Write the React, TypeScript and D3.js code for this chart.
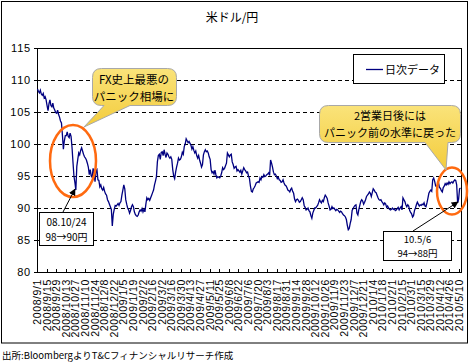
import * as d3 from 'd3';

const tickLabels = [
  '2008/9/1', '2008/9/15', '2008/9/29', '2008/10/13', '2008/10/27', '2008/11/10', '2008/11/24',
  '2008/12/8', '2008/12/22', '2009/1/5', '2009/1/19', '2009/2/2', '2009/2/16', '2009/3/2',
  '2009/3/16', '2009/3/30', '2009/4/13', '2009/4/27', '2009/5/11', '2009/5/25', '2009/6/8',
  '2009/6/22', '2009/7/6', '2009/7/20', '2009/8/3', '2009/8/17', '2009/8/31', '2009/9/14',
  '2009/9/28', '2009/10/12', '2009/10/26', '2009/11/9', '2009/11/23', '2009/12/7', '2009/12/21',
  '2010/1/4', '2010/1/18', '2010/2/1', '2010/2/15', '2010/3/1', '2010/3/15', '2010/3/29',
  '2010/4/12', '2010/4/26', '2010/5/10',
];

// daily close, USD/JPY (business days from 2008/9/1)
const usdJpy = [
  108.6, 108.2, 108.0, 108.4, 107.8, 107.6, 107.9, 107.2, 107.4, 106.9,
  106.0, 105.2, 106.3, 106.9, 106.0, 105.8, 106.4, 105.6, 105.3, 104.9,
  104.8, 105.3, 104.6, 104.2, 103.6, 103.3, 101.4, 99.2, 100.5, 101.3,
  101.3, 101.9, 101.2, 101.0, 101.7, 101.2, 99.5, 97.2, 95.0, 94.0,
  92.8, 96.5, 97.6, 98.6, 98.3, 99.0, 99.4, 98.9, 98.4, 98.0,
  97.8, 97.5, 97.0, 96.4, 95.2, 96.0, 95.0, 94.8, 96.2, 95.3,
  94.1, 95.8, 96.0, 94.4, 94.3, 93.3, 93.6, 93.0, 92.8, 93.2,
  92.6, 92.2, 92.0, 91.3, 91.0, 90.6, 90.2, 89.8, 87.2, 89.0,
  89.8, 90.4, 90.3, 90.5, 90.7, 90.4, 90.8, 91.0, 92.0, 92.8,
  93.6, 93.0, 91.3, 90.6, 90.0, 89.7, 89.2, 89.6, 90.2, 90.5,
  90.2, 89.4, 89.0, 88.8, 88.7, 88.9, 89.4, 89.7, 89.5, 89.9,
  89.4, 89.8, 89.4, 90.6, 91.6, 91.3, 91.5, 91.2, 91.6, 92.0,
  92.4, 92.8, 93.6, 94.2, 94.9, 97.2, 98.2, 98.4, 97.6, 98.7,
  98.8, 98.2, 99.1, 98.4, 97.9, 98.6, 98.4, 98.0, 97.8, 98.0,
  97.6, 96.0, 95.0, 94.6, 95.6, 96.4, 97.0, 97.8, 97.5, 97.6,
  98.0, 98.7, 98.4, 99.6, 100.0, 100.8, 100.5, 100.2, 100.4, 100.1,
  99.8, 99.2, 99.6, 99.0, 98.6, 98.9, 98.2, 97.8, 98.2, 97.5,
  97.0, 96.4, 96.8, 98.3, 98.8, 99.1, 98.8, 98.9, 98.6, 98.0,
  97.6, 96.0, 95.5, 95.7, 95.3, 95.9, 95.2, 94.7, 94.9, 94.8,
  94.7, 95.0, 95.5, 96.3, 96.0, 96.2, 96.6, 97.0, 98.6, 98.3,
  98.0, 98.3, 98.4, 97.2, 96.8, 96.2, 96.4, 96.5, 95.8, 96.0,
  95.8, 95.6, 95.9, 95.3, 95.8, 96.3, 96.0, 95.8, 95.5, 95.6,
  95.0, 94.6, 93.4, 92.6, 92.5, 93.0, 93.2, 93.5, 93.9, 94.0,
  94.1, 94.0, 94.7, 94.4, 94.9, 94.8, 95.2, 94.9, 95.0, 95.2,
  95.3, 95.5, 95.1, 97.5, 97.0, 96.4, 95.6, 95.2, 95.3, 95.0,
  94.6, 94.8, 94.4, 94.3, 94.0, 94.1, 94.4, 93.9, 93.6, 93.5,
  93.2, 92.8, 92.7, 92.5, 92.9, 93.1, 92.6, 92.3, 91.4, 91.0,
  91.3, 91.4, 91.2, 90.9, 91.0, 91.3, 91.6, 91.3, 90.4, 90.1,
  89.7, 89.8, 90.0, 89.6, 89.4, 88.8, 88.4, 89.2, 89.6, 90.0,
  90.0, 90.2, 90.4, 90.8, 91.3, 91.0, 90.8, 91.2, 91.0, 91.6,
  92.0, 91.8, 91.5, 90.8, 90.3, 89.7, 89.8, 90.2, 89.9, 90.0,
  89.8, 89.6, 89.8, 89.7, 89.5, 89.3, 89.5, 89.4, 89.1, 88.9,
  88.8, 88.6, 88.2, 87.3, 86.6, 86.8, 87.6, 88.2, 89.6, 89.9,
  90.2, 90.4, 90.5, 89.2, 88.9, 89.8, 90.4, 91.0, 91.3, 91.1,
  90.6, 90.9, 91.3, 91.8, 92.0, 92.2, 92.5, 92.3, 91.8, 92.4,
  93.0, 92.8, 92.5, 92.4, 92.0, 91.6, 91.3, 91.2, 91.3, 91.0,
  90.8, 90.5, 90.8, 90.6, 90.1, 90.3, 90.0, 89.8, 89.7, 89.8,
  90.0, 89.8, 89.9, 89.6, 89.7, 89.9, 90.1, 89.7, 90.0, 90.2,
  89.7, 91.6, 91.3, 91.0, 90.5, 90.2, 90.5, 90.3, 89.6, 89.3,
  89.1, 88.6, 88.8, 89.6, 90.0, 90.5, 90.9, 90.6, 90.3, 90.5,
  90.4, 90.6, 90.5, 90.8, 90.3, 90.2, 90.8, 91.5, 92.3, 92.6,
  92.8, 92.6, 94.4, 94.7, 94.2, 93.5, 93.3, 93.6, 94.0, 93.2,
  93.1, 92.7, 92.5, 93.2, 93.4, 93.8, 93.6, 93.9, 93.7, 94.1,
  93.8, 94.0, 94.1, 93.9, 94.2, 94.4, 94.3, 93.6, 90.8, 91.4,
  93.0, 93.1,
];

const yTicks = [80, 85, 90, 95, 100, 105, 110, 115];
const gridValues = [85, 90, 95, 100, 105, 110];

const FONT = "'MS PGothic', 'Noto Sans CJK JP', sans-serif";
const LATIN = "'Liberation Sans', Arial, sans-serif";

const W = 472;
const H = 362;
const plot = { left: 37, right: 461, top: 48, bottom: 272 };

function callout(x0: number, y0: number, x1: number, y1: number, r: number,
  baseL: number, baseR: number, tipX: number, tipY: number) {
  // rounded box with a tail coming out of the bottom edge
  return [
    `M${x0 + r},${y0}`,
    `H${x1 - r}`, `Q${x1},${y0} ${x1},${y0 + r}`,
    `V${y1 - r}`, `Q${x1},${y1} ${x1 - r},${y1}`,
    `H${baseR}`, `L${tipX},${tipY}`, `L${baseL},${y1}`,
    `H${x0 + r}`, `Q${x0},${y1} ${x0},${y1 - r}`,
    `V${y0 + r}`, `Q${x0},${y0} ${x0 + r},${y0}`, 'Z',
  ].join(' ');
}

export default function App() {
  const n = usdJpy.length;
  const x = d3.scaleBand<number>().domain(d3.range(n)).range([plot.left, plot.right]);
  const bw = x.bandwidth();
  const y = d3.scaleLinear().domain([80, 115]).range([plot.bottom, plot.top]);

  const line = d3.line<number>()
    .x((_, i) => (x(i) ?? 0) + bw / 2)
    .y(d => y(d));

  const tickIdx = tickLabels.map((_, k) => k * 10);

  return (
    <svg width={W} height={H} style={{ position: 'absolute', left: 0, top: 0, background: '#fff' }}
      fontFamily={FONT}>
      <defs>
        <linearGradient id="yel" x1="0" y1="0" x2="0" y2="1">
          <stop offset="0" stopColor="#fae37a" />
          <stop offset="1" stopColor="#f3cc3c" />
        </linearGradient>
        <marker id="arr" viewBox="0 0 10 10" refX="9" refY="5" markerWidth="7" markerHeight="7"
          orient="auto">
          <path d="M0,0 L10,5 L0,10 Z" fill="#000" />
        </marker>
      </defs>

      <rect x={1.5} y={1.5} width={466} height={341.5} fill="#fff" stroke="#000" />

      <text x={232} y={22} textAnchor="middle" fontSize={12}>米ドル/円</text>

      {/* grid */}
      {gridValues.map(v => (
        <line key={v} x1={plot.left} x2={plot.right} y1={Math.round(y(v)) + 0.5} y2={Math.round(y(v)) + 0.5}
          stroke="#000" strokeDasharray="4,3" />
      ))}
      <rect x={plot.left + 0.5} y={plot.top + 0.5} width={plot.right - plot.left} height={plot.bottom - plot.top}
        fill="none" stroke="#000" />

      {/* y axis */}
      {yTicks.map(v => (
        <g key={v}>
          <line x1={plot.left - 3} x2={plot.left} y1={Math.round(y(v)) + 0.5} y2={Math.round(y(v)) + 0.5}
            stroke="#000" />
          <text x={31} y={y(v) + 4} textAnchor="end" fontSize={11} letterSpacing={0.8}
            fontFamily={LATIN}>{v}</text>
        </g>
      ))}

      {/* x axis ticks + labels */}
      {tickIdx.map(i => (
        <line key={i} x1={Math.round(x(i) ?? 0) + 0.5} x2={Math.round(x(i) ?? 0) + 0.5}
          y1={plot.bottom - 3} y2={plot.bottom} stroke="#000" />
      ))}
      {tickIdx.map((i, k) => {
        const cx = (x(i) ?? 0) + bw / 2;
        return (
          <text key={k} transform={`translate(${cx + 3.5},${plot.bottom + 7}) rotate(-90)`}
            textAnchor="end" fontSize={10.5} letterSpacing={0.6} fontFamily={LATIN}>
            {tickLabels[k]}
          </text>
        );
      })}

      {/* series */}
      <path d={line(usdJpy) ?? ''} fill="none" stroke="#000080" strokeWidth={1.3} />

      {/* legend */}
      <rect x={353.5} y={54.5} width={91} height={29} fill="#fff" stroke="#000" />
      <line x1={366} x2={383} y1={69.5} y2={69.5} stroke="#000080" strokeWidth={1.3} />
      <text x={385} y={73.5} fontSize={11}>日次データ</text>

      {/* highlight ellipses */}
      <ellipse cx={73} cy={161} rx={23} ry={36} fill="none" stroke="#ff6a10" strokeWidth={2.5} />
      <ellipse cx={452} cy={191} rx={15} ry={23.5} fill="none" stroke="#ff6a10" strokeWidth={2.5} />

      {/* callouts */}
      <path d={callout(92.5, 68.5, 176.5, 105.5, 9, 104, 130, 84, 127)} fill="url(#yel)"
        stroke="#a8a8a8" strokeWidth={1} />
      <text x={134} y={84} textAnchor="middle" fontSize={11.5}>FX史上最悪の</text>
      <text x={134} y={101} textAnchor="middle" fontSize={11.5}>パニック相場に</text>

      <path d={callout(319.5, 105.5, 460.5, 142.5, 9, 425, 448, 446, 170)} fill="url(#yel)"
        stroke="#a8a8a8" strokeWidth={1} />
      <text x={390} y={120} textAnchor="middle" fontSize={11}>2営業日後には</text>
      <text x={390} y={137} textAnchor="middle" fontSize={11}>パニック前の水準に戻った</text>

      {/* event notes */}
      <line x1={63} y1={212} x2={75} y2={189} stroke="#000" markerEnd="url(#arr)" />
      <rect x={39.5} y={212.5} width={54} height={33} fill="#fff" stroke="#000" />
      <text x={66.5} y={226} textAnchor="middle" fontSize={10}>08.10/24</text>
      <text x={66.5} y={241} textAnchor="middle" fontSize={10}>98→90円</text>

      <line x1={413} y1={231} x2={458} y2={202} stroke="#000" markerEnd="url(#arr)" />
      <rect x={383.5} y={231.5} width={68} height={29} fill="#fff" stroke="#000" />
      <text x={417.5} y={243} textAnchor="middle" fontSize={9.5}>10.5/6</text>
      <text x={417.5} y={257} textAnchor="middle" fontSize={9.5}>94→88円</text>

      <text x={2} y={359} fontSize={9.5}>出所:BloombergよりT&amp;Cフィナンシャルリサーチ作成</text>
    </svg>
  );
}
